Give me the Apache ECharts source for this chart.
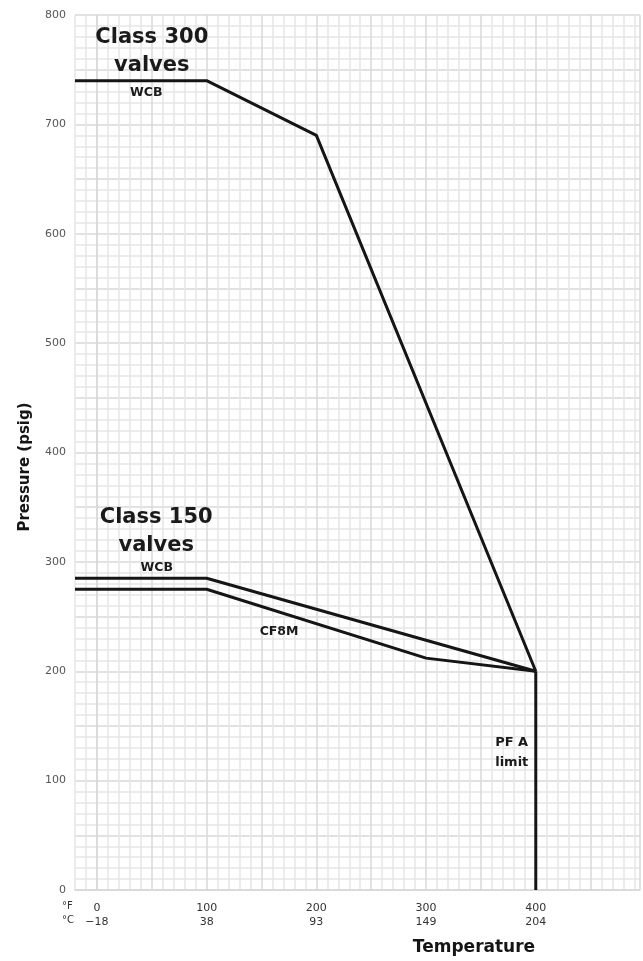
<!DOCTYPE html>
<html><head><meta charset="utf-8">
<script src="https://cdn.jsdelivr.net/npm/echarts@6/dist/echarts.min.js"></script>
<style>html,body{margin:0;padding:0;background:#fff}#c{width:643px;height:961px}</style>
</head><body><div id="c"></div>
<script>
// Tick labels
const tempF = [0, 100, 200, 300, 400];
const tempC = ['\u221218', '38', '93', '149', '204'];
const pressureTicks = [0, 100, 200, 300, 400, 500, 600, 700, 800];

// Series values [°F, psig]
const class300WCB = [[-20, 740], [100, 740], [200, 690], [400, 200]];
const class150WCB = [[-20, 285], [100, 285], [400, 200]];
const class150CF8M = [[-20, 275], [100, 275], [300, 212], [400, 200]];
const pfaLimit = [[400, 200], [400, 0]];

// Text annotations anchored in data coordinates
const bigNotes = [[50, 767, 'Class 300\nvalves'], [54, 328, 'Class 150\nvalves']];
const smallNotes = [[45, 729, 'WCB'], [54.5, 295, 'WCB'], [166, 236, 'CF8M']];
const sideNotes = [[363, 126, 'PF A\nlimit']];

const FONT = 'DejaVu Sans';
const minorC = '#e6e6e6', majorC = '#d8d8d8';

const lineSeries = (data) => ({
  type: 'line', data, symbol: 'none', silent: true, z: 5,
  lineStyle: { color: '#151515', width: 3, join: 'round' }
});
const noteSeries = (data, label) => ({
  type: 'scatter', data, symbolSize: 0, silent: true, z: 6,
  itemStyle: { opacity: 1 },
  label: Object.assign({ show: true, formatter: p => p.value[2], color: '#1a1a1a',
    fontFamily: FONT, fontWeight: 'bold' }, label)
});

const chart = echarts.init(document.getElementById('c'), null, { renderer: 'canvas' });
chart.setOption({
  animation: false,
  backgroundColor: '#fff',
  grid: { left: 75, top: 15, width: 566.5, height: 875, containLabel: false },
  xAxis: {
    type: 'value', min: -20, max: 495, interval: 10,
    axisLine: { show: true, lineStyle: { color: majorC, width: 1.5 } },
    axisTick: { show: false },
    axisLabel: {
      margin: 11, color: '#333', fontFamily: FONT, fontSize: 11, lineHeight: 14,
      formatter: v => { const i = tempF.indexOf(v); return i >= 0 ? tempF[i] + '\n' + tempC[i] : ''; }
    },
    splitLine: { show: true, lineStyle: { color: [minorC, minorC, majorC, minorC, minorC], width: 1.5 } }
  },
  yAxis: {
    type: 'value', min: 0, max: 800, interval: 10,
    axisLine: { show: true, lineStyle: { color: majorC, width: 1.5 } },
    axisTick: { show: false },
    axisLabel: {
      margin: 9, color: '#555', fontFamily: FONT, fontSize: 11,
      formatter: v => pressureTicks.includes(v) ? String(v) : ''
    },
    splitLine: { show: true, lineStyle: { color: [majorC, minorC, minorC, minorC, minorC], width: 1.5 } }
  },
  series: [
    lineSeries(class300WCB),
    lineSeries(class150WCB),
    lineSeries(class150CF8M),
    lineSeries(pfaLimit),
    noteSeries(bigNotes, { position: 'inside', fontSize: 21, lineHeight: 28, align: 'center' }),
    noteSeries(smallNotes, { position: 'inside', fontSize: 12.5, align: 'center' }),
    noteSeries(sideNotes, { position: 'right', distance: 0, fontSize: 13, lineHeight: 20, align: 'left' })
  ],
  graphic: [
    { type: 'text', left: 62, top: 901, style: { text: '\u00b0F', fontFamily: FONT, fontSize: 10, fill: '#333' } },
    { type: 'text', left: 62, top: 915, style: { text: '\u00b0C', fontFamily: FONT, fontSize: 10, fill: '#333' } },
    { type: 'text', x: 25, y: 467, rotation: Math.PI / 2,
      style: { text: 'Pressure (psig)', fontFamily: FONT, fontSize: 15, fontWeight: 'bold', fill: '#151515', align: 'center', verticalAlign: 'middle' } },
    { type: 'text', x: 474, y: 948,
      style: { text: 'Temperature', fontFamily: FONT, fontSize: 17, fontWeight: 'bold', fill: '#151515', align: 'center', verticalAlign: 'middle' } }
  ]
});
</script></body></html>
